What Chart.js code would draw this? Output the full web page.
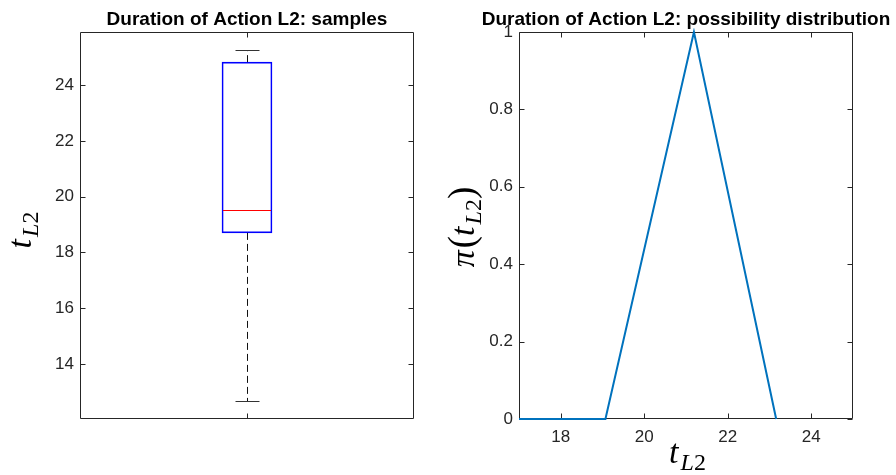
<!DOCTYPE html>
<html>
<head>
<meta charset="utf-8">
<script src="https://cdn.jsdelivr.net/npm/chart.js@4/dist/chart.umd.min.js"></script>
<style>
  html, body { margin: 0; padding: 0; background: #fff; }
  #wrap { position: relative; width: 896px; height: 475px; overflow: hidden; }
  #wrap canvas { position: absolute; top: 0; }
  #samplesChart { left: 0; }
  #possChart { left: 440px; }
</style>
</head>
<body>
<div id="wrap">
  <canvas id="samplesChart" width="440" height="475"></canvas>
  <canvas id="possChart" width="456" height="475"></canvas>
</div>
<script>
// boxplot of the sampled durations
const boxCategories = ['1'];
const whiskerLow = [12.66];
const boxLow = [18.70];
const medians = [19.52];
const boxHigh = [24.82];
const whiskerHigh = [25.27];
const sampleTicks = [14, 16, 18, 20, 22, 24];

// possibility distribution
const possX = [17, 19.07, 21.19, 23.16];
const possY = [0, 0, 1, 0];
const possXTicks = [18, 20, 22, 24];
const possYTicks = [0, 0.2, 0.4, 0.6, 0.8, 1];

const AXIS_COLOR = '#262626';
const TICK_LEN = 5;
const SANS = '"Liberation Sans", Arial, Helvetica, sans-serif';
const SERIF = '"Liberation Serif", "Times New Roman", serif';

const px = v => Math.round(v) + 0.5;

// axes box with inward tick marks on all four sides
const frameTicks = {
  id: 'frameTicks',
  beforeDatasetsDraw(chart) {
    const { ctx, chartArea: a, scales: { x, y } } = chart;
    ctx.save();
    ctx.strokeStyle = AXIS_COLOR;
    ctx.lineWidth = 1;
    ctx.beginPath();
    const l = px(a.left), r = px(a.right - 1), t = px(a.top), b = px(a.bottom - 1);
    ctx.rect(l, t, r - l, b - t);
    x.ticks.forEach((tk, i) => {
      const xp = px(x.getPixelForTick(i));
      ctx.moveTo(xp, b); ctx.lineTo(xp, b - TICK_LEN);
      ctx.moveTo(xp, t); ctx.lineTo(xp, t + TICK_LEN);
    });
    y.ticks.forEach((tk, i) => {
      const yp = px(y.getPixelForTick(i));
      ctx.moveTo(l, yp); ctx.lineTo(l + TICK_LEN, yp);
      ctx.moveTo(r, yp); ctx.lineTo(r - TICK_LEN, yp);
    });
    ctx.stroke();
    ctx.restore();
  }
};

// bold title centred over the plot area
const axesTitle = {
  id: 'axesTitle',
  afterDraw(chart, args, opts) {
    const { ctx, chartArea: a } = chart;
    ctx.save();
    ctx.font = 'bold 19px ' + SANS;
    ctx.fillStyle = '#000';
    ctx.textAlign = 'center';
    ctx.textBaseline = 'alphabetic';
    ctx.fillText(opts.text, (a.left + a.right) / 2, a.top - 7.5);
    ctx.restore();
  }
};

// whiskers, caps and median line on top of the box bars
const boxWhiskers = {
  id: 'boxWhiskers',
  afterDatasetsDraw(chart) {
    const { ctx, scales: { y } } = chart;
    const bars = chart.getDatasetMeta(0).data;
    const capHalf = 12;
    ctx.save();
    ctx.lineWidth = 1;
    bars.forEach((bar, i) => {
      const cx = px(bar.x);
      const half = bar.width / 2;
      const yHi = px(y.getPixelForValue(whiskerHigh[i]));
      const yLo = px(y.getPixelForValue(whiskerLow[i]));
      const yQ3 = y.getPixelForValue(boxHigh[i]);
      const yQ1 = y.getPixelForValue(boxLow[i]);
      const yMed = px(y.getPixelForValue(medians[i]));

      ctx.strokeStyle = '#111';
      ctx.setLineDash([7, 4]);
      ctx.beginPath();
      ctx.moveTo(cx, yQ3); ctx.lineTo(cx, yHi);
      ctx.moveTo(cx, yQ1); ctx.lineTo(cx, yLo);
      ctx.stroke();

      ctx.setLineDash([]);
      ctx.strokeStyle = '#333';
      ctx.beginPath();
      ctx.moveTo(cx - capHalf, yHi); ctx.lineTo(cx + capHalf, yHi);
      ctx.moveTo(cx - capHalf, yLo); ctx.lineTo(cx + capHalf, yLo);
      ctx.stroke();

      ctx.strokeStyle = '#ff0000';
      ctx.beginPath();
      ctx.moveTo(bar.x - half + 1, yMed); ctx.lineTo(bar.x + half - 1, yMed);
      ctx.stroke();
    });
    ctx.restore();
  }
};

// math-style axis labels (italic symbols with subscripts)
function drawMath(ctx, parts, cx, cy, angle) {
  ctx.save();
  ctx.translate(cx, cy);
  ctx.rotate(angle);
  ctx.textAlign = 'left';
  ctx.textBaseline = 'alphabetic';
  ctx.fillStyle = '#000';
  let total = 0;
  parts.forEach(p => {
    ctx.font = p.font;
    p.w = ctx.measureText(p.text).width + (p.gap || 0);
    total += p.w;
  });
  let pos = -total / 2;
  parts.forEach(p => {
    ctx.font = p.font;
    ctx.fillText(p.text, pos, p.dy || 0);
    pos += p.w;
  });
  ctx.restore();
}

const mathLabels = {
  id: 'mathLabels',
  afterDraw(chart, args, opts) {
    (opts.labels || []).forEach(l => drawMath(chart.ctx, l.parts, l.x, l.y, l.angle || 0));
  }
};

const MAIN = 'italic 34px ' + SERIF;
const SUB_I = 'italic 24px ' + SERIF;
const SUB_R = '24px ' + SERIF;
const PAREN = '37px ' + SERIF;
const tParts = () => [
  { text: 't', font: MAIN, gap: 2 },
  { text: 'L', font: SUB_I, dy: 7 },
  { text: '2', font: SUB_R, dy: 7 }
];
const piParts = () => [
  { text: 'π', font: MAIN, gap: 2 },
  { text: '(', font: PAREN },
  ...tParts(),
  { text: ')', font: PAREN }
];

const tickFont = { family: SANS, size: 17 };

new Chart(document.getElementById('samplesChart'), {
  type: 'bar',
  data: {
    labels: boxCategories,
    datasets: [{
      data: boxLow.map((v, i) => [v, boxHigh[i]]),
      backgroundColor: 'rgba(0,0,0,0)',
      borderColor: '#0000ff',
      borderWidth: 1,
      borderSkipped: false,
      barThickness: 50
    }]
  },
  options: {
    responsive: false,
    devicePixelRatio: 1,
    animation: false,
    layout: { padding: { top: 32, left: 0, right: 26, bottom: 0 } },
    scales: {
      x: {
        ticks: { display: false },
        grid: { display: false, drawTicks: false },
        border: { display: false },
        afterFit: s => { s.height = 56; }
      },
      y: {
        min: 12.03,
        max: 25.90,
        afterBuildTicks: s => { s.ticks = sampleTicks.map(v => ({ value: v })); },
        ticks: { font: tickFont, color: AXIS_COLOR, padding: 6, callback: v => String(v) },
        grid: { display: false, drawTicks: false },
        border: { display: false },
        afterFit: s => { s.width = 80; }
      }
    },
    plugins: {
      legend: { display: false },
      tooltip: { enabled: false },
      axesTitle: { text: 'Duration of Action L2: samples' },
      mathLabels: { labels: [{ parts: tParts(), x: 31, y: 230, angle: -Math.PI / 2 }] }
    }
  },
  plugins: [frameTicks, boxWhiskers, axesTitle, mathLabels]
});

new Chart(document.getElementById('possChart'), {
  type: 'line',
  data: {
    datasets: [{
      data: possX.map((v, i) => ({ x: v, y: possY[i] })),
      borderColor: '#0072BD',
      borderWidth: 2,
      pointRadius: 0,
      tension: 0,
      fill: false,
      clip: 4
    }]
  },
  options: {
    responsive: false,
    devicePixelRatio: 1,
    animation: false,
    layout: { padding: { top: 32, left: 0, right: 43, bottom: 0 } },
    scales: {
      x: {
        type: 'linear',
        min: 17,
        max: 25,
        afterBuildTicks: s => { s.ticks = possXTicks.map(v => ({ value: v })); },
        ticks: { font: tickFont, color: AXIS_COLOR, padding: 8, callback: v => String(v) },
        grid: { display: false, drawTicks: false },
        border: { display: false },
        afterFit: s => { s.height = 56; }
      },
      y: {
        min: 0,
        max: 1,
        afterBuildTicks: s => { s.ticks = possYTicks.map(v => ({ value: v })); },
        ticks: { font: tickFont, color: AXIS_COLOR, padding: 6, callback: v => String(v) },
        grid: { display: false, drawTicks: false },
        border: { display: false },
        afterFit: s => { s.width = 79; }
      }
    },
    plugins: {
      legend: { display: false },
      tooltip: { enabled: false },
      axesTitle: { text: 'Duration of Action L2: possibility distribution' },
      mathLabels: {
        labels: [
          { parts: tParts(), x: 247.5, y: 463 },
          { parts: piParts(), x: 34, y: 227, angle: -Math.PI / 2 }
        ]
      }
    }
  },
  plugins: [frameTicks, axesTitle, mathLabels]
});
</script>
</body>
</html>
